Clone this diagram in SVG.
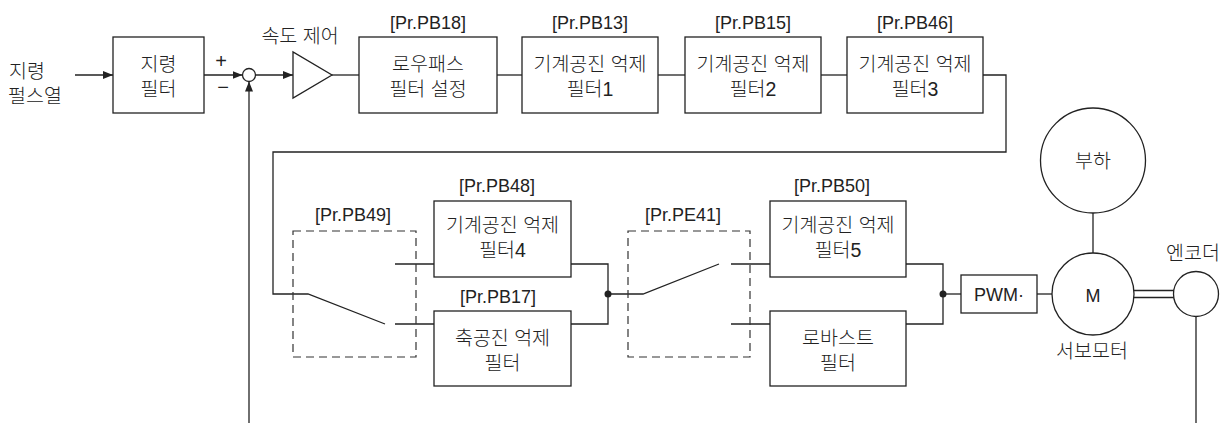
<svg xmlns="http://www.w3.org/2000/svg" width="1228" height="423" viewBox="0 0 1228 423">
<style>
.t{font-family:"Liberation Sans","Noto Sans CJK KR",sans-serif;font-size:18px;fill:#222;text-anchor:middle}
.k{font-size:19.5px;font-weight:300}
.s{text-anchor:start}
.b{fill:#fff;stroke:#222;stroke-width:1.3}
.l{fill:none;stroke:#222;stroke-width:1.3}
.d{fill:none;stroke:#333;stroke-width:1.2;stroke-dasharray:8 5}
</style>
<defs>
<marker id="ah" markerWidth="10" markerHeight="8" refX="10" refY="4" orient="auto" markerUnits="userSpaceOnUse">
<path d="M0,0 L10,4 L0,8 Z" fill="#222"/>
</marker>
</defs>
<rect width="1228" height="423" fill="#fff"/>
<g id="connectors">
<line class="l" x1="75" y1="75" x2="113" y2="75" marker-end="url(#ah)"/>
<line class="l" x1="204" y1="75" x2="242.5" y2="75" marker-end="url(#ah)"/>
<line class="l" x1="249" y1="423" x2="249" y2="81.5" marker-end="url(#ah)"/>
<line class="l" x1="255.5" y1="75" x2="293" y2="75" marker-end="url(#ah)"/>
<line class="l" x1="332" y1="75" x2="359" y2="75"/>
<line class="l" x1="497" y1="75" x2="522" y2="75"/>
<line class="l" x1="658" y1="75" x2="685" y2="75"/>
<line class="l" x1="821" y1="75" x2="847" y2="75"/>
<polyline class="l" points="983,75 1006,75 1006,152 273,152 273,294 308,294 385,324"/>
<line class="l" x1="395" y1="264" x2="434" y2="264"/>
<line class="l" x1="395" y1="324" x2="434" y2="324"/>
<polyline class="l" points="571,264 608,264 608,324 571,324"/>
<circle cx="608" cy="294" r="3.5" fill="#222"/>
<polyline class="l" points="608,294 643,294 719,264"/>
<line class="l" x1="731" y1="264" x2="770" y2="264"/>
<line class="l" x1="731" y1="324" x2="770" y2="324"/>
<polyline class="l" points="906,264 943,264 943,324 906,324"/>
<circle cx="943" cy="294" r="3.5" fill="#222"/>
<line class="l" x1="943" y1="294" x2="961" y2="294"/>
<line class="l" x1="1037" y1="294" x2="1052" y2="294"/>
<line class="l" x1="1093" y1="213" x2="1093" y2="253"/>
<line class="l" x1="1134" y1="290.5" x2="1174" y2="290.5"/>
<line class="l" x1="1134" y1="297.5" x2="1174" y2="297.5"/>
<line class="l" x1="1196" y1="316.5" x2="1196" y2="423"/>
</g>
<g id="input">
<text class="t k s" x="9" y="78">지령</text>
<text class="t k s" x="8" y="103">펄스열</text>
</g>
<g id="cmdfilter">
<rect class="b" x="113" y="37" width="91" height="76"/>
<text class="t k" x="158.5" y="71">지령</text>
<text class="t k" x="158.5" y="96">필터</text>
</g>
<g id="sum">
<circle class="b" cx="249" cy="75" r="6.5"/>
<text class="t" x="221" y="68" style="font-size:20px">+</text>
<text class="t" x="223" y="94" style="font-size:20px">−</text>
</g>
<g id="speed">
<polygon class="b" points="293,52 293,98 332,75"/>
<text class="t k" x="300" y="43">속도 제어</text>
</g>
<g id="lpf">
<text class="t" x="428" y="29">[Pr.PB18]</text>
<rect class="b" x="359" y="37" width="138" height="76"/>
<text class="t k" x="428" y="71">로우패스</text>
<text class="t k" x="428" y="96">필터 설정</text>
</g>
<g id="nf1">
<text class="t" x="590" y="29">[Pr.PB13]</text>
<rect class="b" x="522" y="37" width="136" height="76"/>
<text class="t k" x="590" y="71">기계공진 억제</text>
<text class="t k" x="590" y="96">필터1</text>
</g>
<g id="nf2">
<text class="t" x="753" y="29">[Pr.PB15]</text>
<rect class="b" x="685" y="37" width="136" height="76"/>
<text class="t k" x="753" y="71">기계공진 억제</text>
<text class="t k" x="753" y="96">필터2</text>
</g>
<g id="nf3">
<text class="t" x="915" y="29">[Pr.PB46]</text>
<rect class="b" x="847" y="37" width="136" height="76"/>
<text class="t k" x="915" y="71">기계공진 억제</text>
<text class="t k" x="915" y="96">필터3</text>
</g>
<g id="sw1">
<rect class="d" x="293" y="231" width="123" height="126"/>
<text class="t" x="353" y="221">[Pr.PB49]</text>
</g>
<g id="nf4">
<text class="t" x="497" y="192">[Pr.PB48]</text>
<rect class="b" x="434" y="201" width="137" height="76"/>
<text class="t k" x="502.5" y="232">기계공진 억제</text>
<text class="t k" x="502.5" y="257">필터4</text>
</g>
<g id="shaft">
<text class="t" x="498" y="303">[Pr.PB17]</text>
<rect class="b" x="434" y="311" width="137" height="75"/>
<text class="t k" x="502.5" y="345">축공진 억제</text>
<text class="t k" x="502.5" y="370">필터</text>
</g>
<g id="sw2">
<rect class="d" x="628" y="231" width="122" height="126"/>
<text class="t" x="683" y="221">[Pr.PE41]</text>
</g>
<g id="nf5">
<text class="t" x="832" y="192">[Pr.PB50]</text>
<rect class="b" x="770" y="201" width="136" height="76"/>
<text class="t k" x="838" y="232">기계공진 억제</text>
<text class="t k" x="838" y="257">필터5</text>
</g>
<g id="robust">
<rect class="b" x="770" y="311" width="136" height="75"/>
<text class="t k" x="838" y="345">로바스트</text>
<text class="t k" x="838" y="370">필터</text>
</g>
<g id="pwm">
<rect class="b" x="961" y="275" width="76" height="38"/>
<text class="t" x="999" y="301">PWM·</text>
</g>
<g id="motor">
<circle class="b" cx="1093" cy="294" r="41"/>
<text class="t" x="1093" y="302">M</text>
<text class="t k" x="1092" y="358">서보모터</text>
</g>
<g id="load">
<circle class="b" cx="1093" cy="160.5" r="52.5"/>
<text class="t k" x="1093" y="168">부하</text>
</g>
<g id="encoder">
<circle class="b" cx="1196" cy="294" r="22.5"/>
<text class="t k" x="1193" y="260">엔코더</text>
</g>
</svg>
